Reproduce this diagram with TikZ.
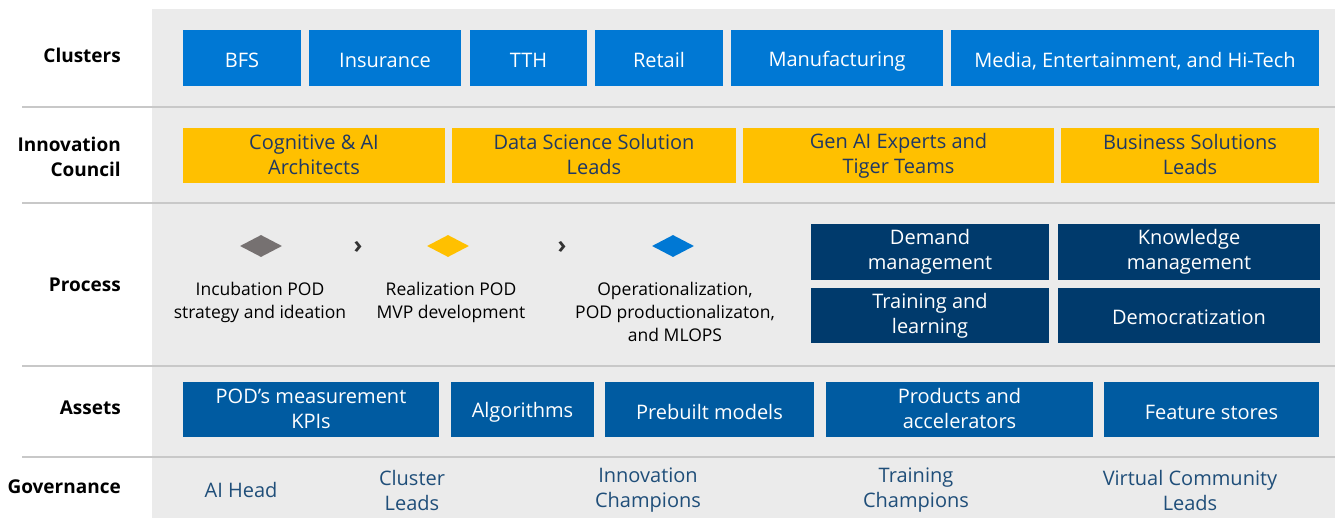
\documentclass[tikz,border=0pt]{standalone}
\usepackage{fontspec}
\setmainfont{Open Sans}
\usepackage{tikz}
\usetikzlibrary{shapes.geometric, positioning}
\definecolor{clusterblue}{HTML}{0078D4}
\definecolor{councilyellow}{HTML}{FFC000}
\definecolor{processnavy}{HTML}{003A6C}
\definecolor{assetblue}{HTML}{005BA1}
\definecolor{inknavy}{HTML}{1F3864}
\definecolor{govblue}{HTML}{1F4E79}
\definecolor{panelgray}{HTML}{EBEBEB}
\definecolor{rulegray}{HTML}{C8C8C8}
\definecolor{podgray}{HTML}{767171}
\newcommand{\boxfont}{\fontsize{20}{25}\selectfont}
\newcommand{\boxstrut}{\rule[-2pt]{0pt}{23pt}}

\begin{document}
\begin{tikzpicture}
  [
    x=1pt, y=-1pt,
    Row/.style={anchor=east, align=right, inner sep=0pt, font=\fontsize{19}{25}\selectfont\bfseries, text=black},
    Boxed/.style={rectangle, inner sep=0pt, align=center, font=\boxfont,
      execute at begin node=\boxstrut, execute at end node=\boxstrut},
    Cluster/.style={Boxed, fill=clusterblue, text=white, minimum height=56pt},
    Council/.style={Boxed, fill=councilyellow, text=inknavy, minimum height=55pt},
    Team/.style={Boxed, fill=processnavy, text=white},
    Asset/.style={Boxed, fill=assetblue, text=white, minimum height=55pt},
    Pod/.style={diamond, aspect=2, inner sep=0pt, minimum width=42pt, minimum height=22pt},
    Stage/.style={align=center, font=\fontsize{17.5}{23}\selectfont, text=black},
    Chevron/.style={font=\fontsize{24}{24}\selectfont\bfseries, text=black!80, inner sep=0pt},
    Gov/.style={align=center, font=\boxfont, text=govblue}
  ]
  \useasboundingbox (0,0) rectangle (1335,518);
  % Panel and rules
  \fill[panelgray] (152,9) rectangle (1335,518);
  \foreach \ry in {107,203,366,457}
    \draw[rulegray, line width=1.5pt] (22,\ry) -- (1335,\ry);
  % Row titles
  \node[Row] (clusters) at (121,55) {Clusters};
  \node[Row] (council) at (121,157) {Innovation\\Council};
  \node[Row] (process) at (121,285) {Process};
  \node[Row] (assets) at (121,408) {Assets};
  \node[Row] (governance) at (121,487) {Governance};
  % Clusters
  \node[Cluster, minimum width=118pt] (bfs) at (242,58) {BFS};
  \node[Cluster, minimum width=152pt] (insurance) at (385,58) {Insurance};
  \node[Cluster, minimum width=117pt] (tth) at (528.5,58) {TTH};
  \node[Cluster, minimum width=128pt] (retail) at (659,58) {Retail};
  \node[Cluster, minimum width=212pt] (manufacturing) at (837,58) {Manufacturing};
  \node[Cluster, minimum width=368pt] (media) at (1135,58) {Media, Entertainment, and Hi-Tech};
  % Innovation council
  \node[Council, minimum width=262pt] (cognitive) at (314,155.5) {Cognitive \& AI\\Architects};
  \node[Council, minimum width=284pt] (datasci) at (594,155.5) {Data Science Solution\\Leads};
  \node[Council, minimum width=311pt] (genai) at (898.5,155.5) {Gen AI Experts and\\Tiger Teams};
  \node[Council, minimum width=258pt] (business) at (1190,155.5) {Business Solutions\\Leads};
  % Process
  \node[Pod, fill=podgray] (incubation) at (261,246) {};
  \node[Pod, fill=councilyellow] (realization) at (448,246) {};
  \node[Pod, fill=clusterblue] (operation) at (673,246) {};
  \node[Chevron] (chevA) at (358,247) {›};
  \node[Chevron] (chevB) at (562,247) {›};
  \node[Stage, anchor=north] (incubationtxt) at (260,279) {Incubation POD\\strategy and ideation};
  \node[Stage, anchor=north] (realizationtxt) at (451,279) {Realization POD\\MVP development};
  \node[Stage, anchor=north] (operationtxt) at (675,279) {Operationalization,\\POD productionalizaton,\\and MLOPS};
  \node[Team, minimum width=238pt, minimum height=56pt] (demand) at (930,252) {Demand\\management};
  \node[Team, minimum width=262pt, minimum height=56pt] (knowledge) at (1189,252) {Knowledge\\management};
  \node[Team, minimum width=238pt, minimum height=55pt] (training) at (930,315.5) {Training and\\learning};
  \node[Team, minimum width=262pt, minimum height=55pt] (democrat) at (1189,315.5) {Democratization};
  % Assets
  \node[Asset, minimum width=256pt] (kpis) at (311,409.5) {POD’s measurement\\KPIs};
  \node[Asset, minimum width=143pt] (algorithms) at (522.5,409.5) {Algorithms};
  \node[Asset, minimum width=209pt] (prebuilt) at (709.5,409.5) {Prebuilt models};
  \node[Asset, minimum width=267pt] (products) at (959.5,409.5) {Products and\\accelerators};
  \node[Asset, minimum width=215pt] (features) at (1211.5,409.5) {Feature stores};
  % Governance
  \node[Gov] (aihead) at (241,490) {AI Head};
  \node[Gov] (clusterleads) at (412,490) {Cluster\\Leads};
  \node[Gov] (innovchamp) at (648,490) {Innovation\\Champions};
  \node[Gov] (trainchamp) at (916,490) {Training\\Champions};
  \node[Gov] (virtual) at (1190,490) {Virtual Community\\Leads};
\end{tikzpicture}
\end{document}
